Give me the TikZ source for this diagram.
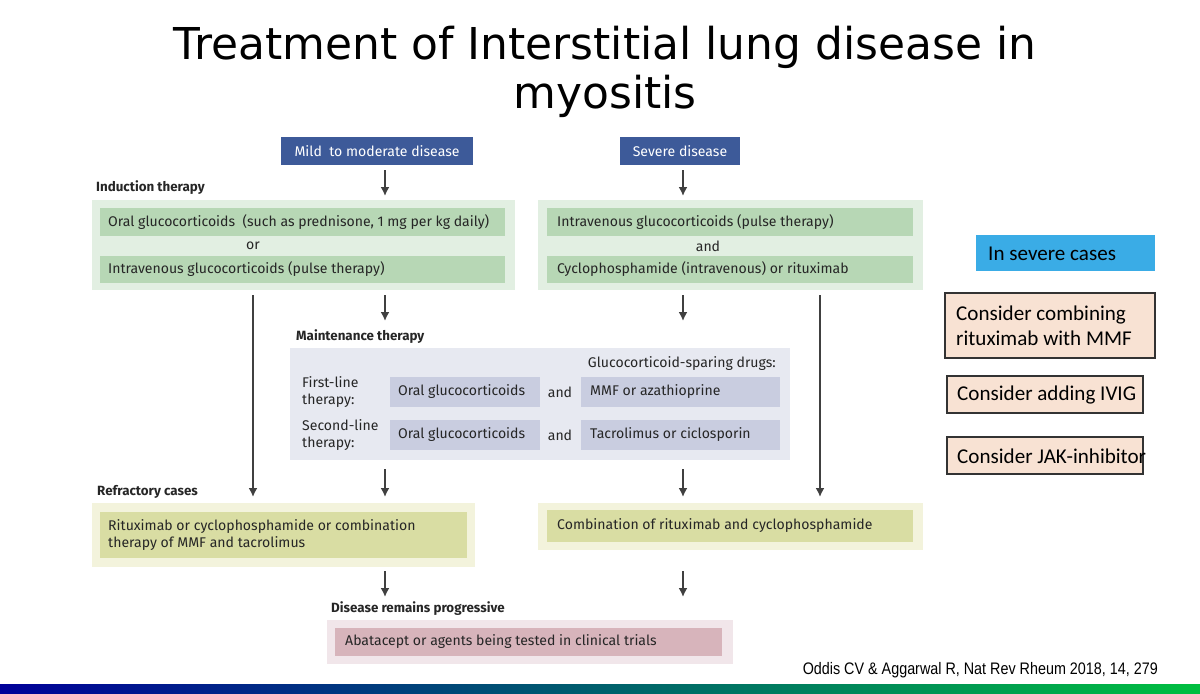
\documentclass[tikz,border=0pt]{standalone}
\usepackage{fontspec}
\usetikzlibrary{arrows.meta}
\setmainfont{Fira Sans}
\newfontfamily\calib{Carlito}
\newfontfamily\arialf{Liberation Sans}
\newfontfamily\titlef{DejaVu Sans}
\definecolor{blueh}{HTML}{3D5A99}
\definecolor{gout}{HTML}{E2EFE2}
\definecolor{gin}{HTML}{B7D7B5}
\definecolor{bout}{HTML}{E7E9F1}
\definecolor{bin}{HTML}{C9CDE0}
\definecolor{yout}{HTML}{F3F3DC}
\definecolor{yin}{HTML}{D9DDA3}
\definecolor{rout}{HTML}{F1E6EA}
\definecolor{rin}{HTML}{D7B4BB}
\definecolor{sky}{HTML}{3AACE6}
\definecolor{peach}{HTML}{F8E2D3}
\definecolor{arr}{HTML}{404040}
\begin{document}
\begin{tikzpicture}[x=0.02cm,y=-0.02cm,
 txt/.style={font=\fontsize{8}{9.6}\selectfont,text=black!85},
 bold/.style={font=\fontsize{7.6}{9}\selectfont\bfseries,text=black!85,anchor=west},
 ar/.style={draw=arr,line width=1.3pt,-{Latex[length=5pt,width=5pt]}},
 rb/.style={draw=black!80,fill=peach,line width=0.6pt},
 rt/.style={font=\calib\fontsize{12}{14.5}\selectfont,align=left}]
\useasboundingbox (0,0) rectangle (1200,693);
\fill[white] (0,0) rectangle (1200,693);
\node[font=\titlef\fontsize{25}{28}\selectfont,align=center] (title) at (605,72) {Treatment of Interstitial lung disease in\\myositis};
% heads
\fill[blueh] (281,137) rectangle (473,165);
\node[font=\fontsize{8}{9}\selectfont,text=white] (mild) at (377,151) {Mild\ \ to moderate disease};
\fill[blueh] (620,137) rectangle (740,165);
\node[font=\fontsize{8}{9}\selectfont,text=white] (sev) at (680,151) {Severe disease};
\node[bold] (ind) at (90,188) {Induction therapy};
% induction
\fill[gout] (92,200) rectangle (515,290);
\fill[gin] (100,208) rectangle (505,236);
\fill[gin] (100,256) rectangle (505,283);
\node[txt,anchor=west] (i1) at (102,222) {Oral glucocorticoids\ \ (such as prednisone, 1 mg per kg daily)};
\node[txt] (or) at (253,246) {or};
\node[txt,anchor=west] (i2) at (102,269) {Intravenous glucocorticoids (pulse therapy)};
\fill[gout] (538,200) rectangle (923,290);
\fill[gin] (547,208) rectangle (913,236);
\fill[gin] (547,256) rectangle (913,283);
\node[txt,anchor=west] (j1) at (551,222) {Intravenous glucocorticoids (pulse therapy)};
\node[txt] (and) at (708,246) {and};
\node[txt,anchor=west] (j2) at (551,269) {Cyclophosphamide (intravenous) or rituximab};
% maintenance
\node[bold] (mt) at (290,337) {Maintenance therapy};
\fill[bout] (290,348) rectangle (790,460);
\node[txt,anchor=east] (gs) at (782,364) {Glucocorticoid-sparing drugs:};
\fill[bin] (390,377) rectangle (540,407);
\fill[bin] (581,377) rectangle (780,407);
\fill[bin] (390,420) rectangle (540,450);
\fill[bin] (581,420) rectangle (780,450);
\node[txt,anchor=west,align=left] (fl) at (296,392) {First-line\\therapy:};
\node[txt,anchor=west,align=left] (sl) at (296,435) {Second-line\\therapy:};
\node[txt,anchor=west] (o1) at (392,392) {Oral glucocorticoids};
\node[txt,anchor=west] (o2) at (392,435) {Oral glucocorticoids};
\node[txt] (a1) at (560,392) {and};
\node[txt] (a2) at (560,435) {and};
\node[txt,anchor=west] (m1) at (584,392) {MMF or azathioprine};
\node[txt,anchor=west] (m2) at (584,435) {Tacrolimus or ciclosporin};
% refractory
\node[bold] (rc) at (91,492) {Refractory cases};
\fill[yout] (92,503) rectangle (475,567);
\fill[yin] (100,512) rectangle (467,558);
\node[txt,anchor=west,align=left] (r1) at (102,535) {Rituximab or cyclophosphamide or combination\\therapy of MMF and tacrolimus};
\fill[yout] (538,503) rectangle (923,550);
\fill[yin] (547,510) rectangle (913,542);
\node[txt,anchor=west] (r2) at (551,526) {Combination of rituximab and cyclophosphamide};
% progressive
\node[bold] (dp) at (325,609) {Disease remains progressive};
\fill[rout] (327,620) rectangle (733,664);
\fill[rin] (335,628) rectangle (722,656);
\node[txt,anchor=west] (p1) at (339,642) {Abatacept or agents being tested in clinical trials};
% arrows
\coordinate (s1) at (385,170); \coordinate (e1) at (385,196);
\coordinate (s2) at (683,170); \coordinate (e2) at (683,196);
\coordinate (s3) at (253,295); \coordinate (e3) at (253,497);
\coordinate (s4) at (385,295); \coordinate (e4) at (385,321);
\coordinate (s5) at (683,295); \coordinate (e5) at (683,321);
\coordinate (s6) at (820,295); \coordinate (e6) at (820,497);
\coordinate (s7) at (385,469); \coordinate (e7) at (385,497);
\coordinate (s8) at (683,469); \coordinate (e8) at (683,497);
\coordinate (s9) at (385,571); \coordinate (e9) at (385,597);
\coordinate (s10) at (683,571); \coordinate (e10) at (683,597);
\foreach \i in {1,...,10} \draw[ar] (s\i) -- (e\i);
% right boxes
\fill[sky] (976,235) rectangle (1155,271);
\node[rt,anchor=west] (sc) at (982,254) {In severe cases};
\draw[rb] (945,293) rectangle (1155,358);
\node[rt,anchor=west] (c1) at (950,326) {Consider combining\\rituximab with MMF};
\draw[rb] (947,376) rectangle (1143,413);
\node[rt,anchor=west] (c2) at (951,395) {Consider adding IVIG};
\draw[rb] (947,437) rectangle (1143,474);
\node[rt,anchor=west] (c3) at (951,456) {Consider JAK-inhibitor};
\node[anchor=east] (cite) at (1164,670) {\scalebox{0.86}[1]{\arialf\fontsize{9.5}{11}\selectfont Oddis CV \& Aggarwal R, Nat Rev Rheum 2018, 14, 279}};
% bottom strip
\shade[left color=blue!60!black, right color=green!50!teal] (0,684) rectangle (1200,693);
\end{tikzpicture}
\end{document}
